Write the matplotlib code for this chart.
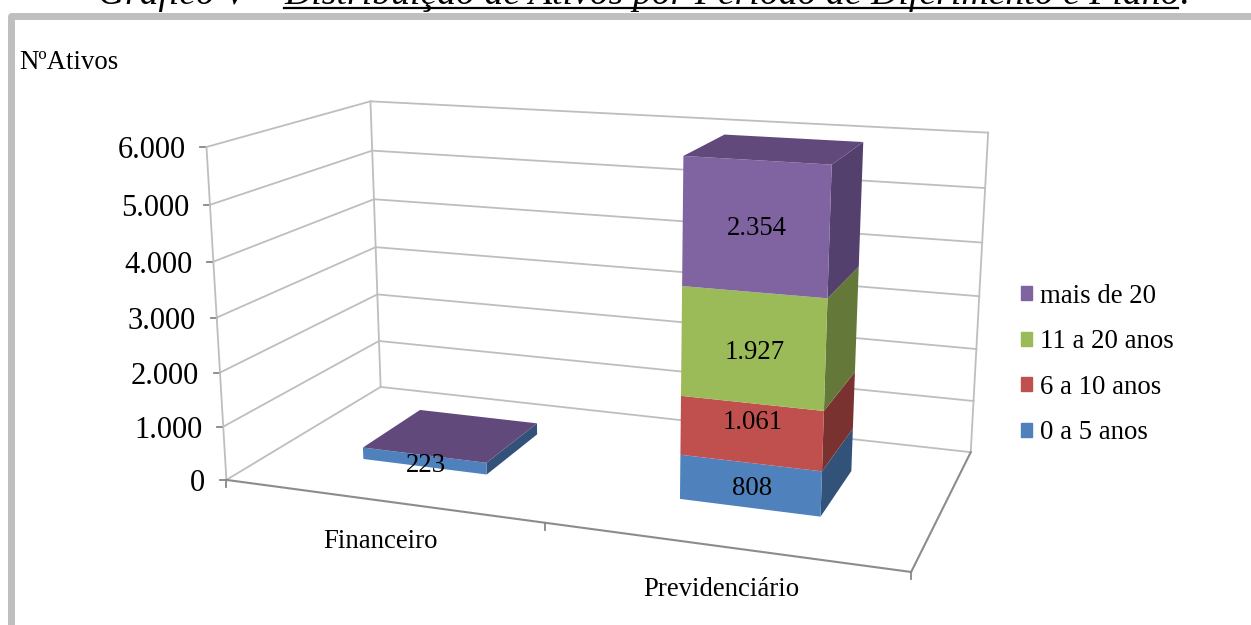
import matplotlib
matplotlib.use('Agg')
import matplotlib.pyplot as plt
from matplotlib.patches import Patch, Rectangle
import numpy as np

plt.rcParams['font.family'] = ['Liberation Serif', 'DejaVu Serif']

categories = ['Financeiro', 'Previdenciário']
series = ['0 a 5 anos', '6 a 10 anos', '11 a 20 anos', 'mais de 20']
values = [[223, 808], [0, 1061], [0, 1927], [0, 2354]]
labels = [['223', '808'], ['', '1.061'], ['', '1.927'], ['', '2.354']]
y_ticks = [0, 1000, 2000, 3000, 4000, 5000, 6000]
y_labels = ['0', '1.000', '2.000', '3.000', '4.000', '5.000', '6.000']

front = ['#4F81BD', '#C0504D', '#9BBB59', '#8064A2']
side = ['#32527A', '#7A3230', '#64783A', '#53406D']
top_col = '#614A7B'

W, H = 1251, 625
ymax = 6000

# corners of the chart box: (category, depth, value) -> pixel
corners = [((0, 0, 0), (227, 479)), ((2, 0, 0), (911, 573)),
           ((0, 1, 0), (380, 388)), ((2, 1, 0), (971, 451)),
           ((0, 0, ymax), (206, 147)), ((0, 1, ymax), (371, 101)),
           ((2, 1, ymax), (988, 133))]

A = []
b = []
for (X, Y, Z), (u, v) in corners:
    A.append([X, Y, Z / ymax, 1, 0, 0, 0, 0, -u * X, -u * Y, -u * Z / ymax])
    b.append(u)
    A.append([0, 0, 0, 0, X, Y, Z / ymax, 1, -v * X, -v * Y, -v * Z / ymax])
    b.append(v)
m = np.linalg.lstsq(np.array(A, float), np.array(b, float), rcond=None)[0]


def proj(X, Y, Z):
    z = Z / ymax
    w = m[8] * X + m[9] * Y + m[10] * z + 1
    return ((m[0] * X + m[1] * Y + m[2] * z + m[3]) / w,
            (m[4] * X + m[5] * Y + m[6] * z + m[7]) / w)


fig = plt.figure(figsize=(W / 100, H / 100), dpi=100)
ax = fig.add_axes([0, 0, 1, 1])
ax.set_xlim(0, W)
ax.set_ylim(H, 0)
ax.axis('off')

# outer frame
ax.add_patch(Rectangle((10.5, 15.5), W + 20, H + 20, fc='white', ec='#BFBFBF', lw=5, joinstyle='round'))

# title, cut by the top of the page
ax.text(284, 4, 'Gráfico V – ', ha='right', va='baseline', fontsize=27, style='italic', clip_on=True)
ax.text(284, 4, 'Distribuição de Ativos por Período de Diferimento e Plano:', ha='left', va='baseline',
        fontsize=27.2, style='italic', clip_on=True)
ax.plot([284, 1178], [8, 8], color='black', lw=1.6)

ax.text(19, 69, 'NºAtivos', fontsize=19.3, ha='left', va='baseline')

# walls
grid = '#BEBEBE'
for t, lab in zip(y_ticks, y_labels):
    p0 = proj(0, 0, t)
    p1 = proj(0, 1, t)
    p2 = proj(2, 1, t)
    ax.plot([p0[0], p1[0], p2[0]], [p0[1], p1[1], p2[1]], color=grid, lw=1.3, zorder=1)
    ax.plot([p0[0] - 6, p0[0]], [p0[1], p0[1]], color='#868686', lw=1.3, zorder=1)
    ax.text(p0[0] - 21, p0[1] + 4, lab, fontsize=22, ha='right', va='center')
for X, Y in [(0, 0), (0, 1), (2, 1)]:
    p0 = proj(X, Y, 0)
    p1 = proj(X, Y, ymax)
    ax.plot([p0[0], p1[0]], [p0[1], p1[1]], color=grid, lw=1.3, zorder=1)

# floor edges and category ticks
p = [proj(0, 0, 0), proj(2, 0, 0), proj(2, 1, 0)]
ax.plot([q[0] for q in p], [q[1] for q in p], color='#8C8C8C', lw=1.5, zorder=2)
for X in range(3):
    q = proj(X, 0, 0)
    ax.plot([q[0], q[0]], [q[1], q[1] + 7], color='#868686', lw=1.3, zorder=2)

# bars, bottom segment first; the stack is cut at the axis maximum
x0s = [0.29, 1.29]
bw = 0.405
d0, d1 = 0.305, 0.705
label_dy = [[4, 2], [0, -12], [0, 3], [0, 1]]
for c in range(len(categories)):
    x0 = x0s[c]
    x1 = x0 + bw
    base = 0
    for s in range(len(series)):
        val = values[s][c]
        if val > 0:
            t = min(base + val, ymax)
            poly = [proj(x1, d0, base), proj(x1, d1, base), proj(x1, d1, t), proj(x1, d0, t)]
            ax.fill(*zip(*poly), color=side[s], lw=0, zorder=3)
            poly = [proj(x0, d0, base), proj(x1, d0, base), proj(x1, d0, t), proj(x0, d0, t)]
            ax.fill(*zip(*poly), color=front[s], lw=0, zorder=3)
            q = proj(x0 + bw / 2, d0, (base + t) / 2)
            ax.text(q[0] + 2, q[1] + 1 + label_dy[s][c], labels[s][c], fontsize=19.3, ha='center', va='center', zorder=5)
            base = t
    poly = [proj(x0, d0, base), proj(x1, d0, base), proj(x1, d1, base), proj(x0, d1, base)]
    ax.fill(*zip(*poly), color=top_col, lw=0, zorder=3)

# category labels
cat_pos = [(380, 541), (721, 589)]
for name, (u, v) in zip(categories, cat_pos):
    ax.text(u, v, name, fontsize=19.3, ha='center', va='center')

handles = [Patch(color=front[i], label=series[i]) for i in range(3, -1, -1)]
leg = ax.legend(handles=handles, loc='center left', bbox_to_anchor=(997, 364.5), bbox_transform=ax.transData,
                frameon=False, fontsize=19.3, handlelength=0.41, handleheight=0.41, handletextpad=0.3,
                labelspacing=0.765)

fig.savefig('out.png', dpi=100)
